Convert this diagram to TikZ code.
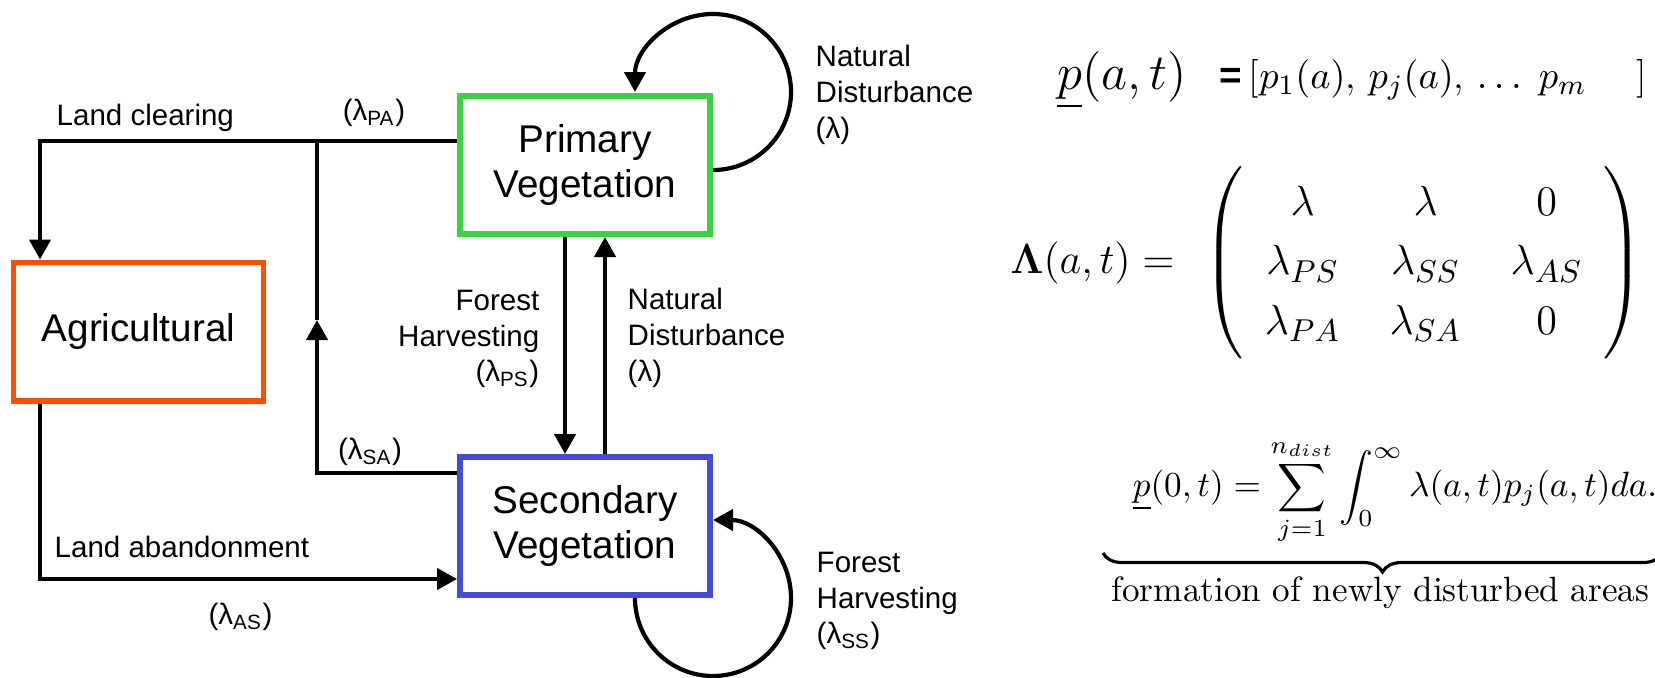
\documentclass[tikz,border=0pt]{standalone}
\usepackage{amsmath,amssymb}
\usepackage{fontspec}
\newfontfamily\arialfont{Liberation Sans}
\usepackage{tikz}
\usetikzlibrary{arrows.meta,positioning,decorations.pathreplacing}
\definecolor{luGreen} {RGB}{ 61,210, 68}
\definecolor{luOrange}{RGB}{255, 80,  0}
\definecolor{luBlue}  {RGB}{ 70, 76,212}

\begin{document}
\begin{tikzpicture}[
  every node/.style={font=\arialfont\fontsize{8.4}{10.2}\selectfont,inner sep=0pt},
  >={Triangle[length=2mm,width=2.1mm]},
  landbox/.style={draw,fill=white,line width=1.7pt,minimum width=2.5cm,
                  minimum height=1.38cm,align=center,
                  font=\arialfont\fontsize{11}{13}\selectfont},
  flow/.style={line width=1.2pt},
  eqn/.style={font=\fontsize{13}{17}\selectfont}
]
\useasboundingbox (0,0) rectangle (16.55,6.77);

\node[landbox,draw=luOrange] (A) at (1.385,3.455) {Agricultural};
\node[landbox,draw=luGreen]  (P) at (5.85,5.12)   {Primary\\Vegetation};
\node[landbox,draw=luBlue]   (S) at (5.85,1.51)   {Secondary\\Vegetation};

\coordinate (lcTurn) at (0.40,5.36);
\coordinate (saTop)  at (3.17,5.36);
\coordinate (saMid)  at (3.17,3.57);
\coordinate (saLow)  at (3.17,2.04);
\coordinate (laTurn) at (0.40,0.98);

\node[anchor=west] (lcLab) at (0.56,5.59) {Land clearing};
\node (paLab) at (3.74,5.64) {(λ\textsubscript{PA})};
\node (saLab) at (3.70,2.25) {(λ\textsubscript{SA})};
\node[anchor=west] (laLab) at (0.54,1.30) {Land abandonment};
\node (asLab) at (2.405,0.60) {(λ\textsubscript{AS})};
\node[anchor=east,align=right] (fhLab) at (5.40,3.38) {Forest\\Harvesting\\(λ\textsubscript{PS})};
\node[anchor=west,align=left] (ndLab) at (6.27,3.39) {Natural\\Disturbance\\(λ)};
\node[anchor=west,align=left] (ndLoop) at (8.15,5.82) {Natural\\Disturbance\\(λ)};
\node[anchor=west,align=left] (fhLoop) at (8.16,0.76) {Forest\\Harvesting\\(λ\textsubscript{SS})};

\draw[->,flow] (P.west |- lcTurn) -- (lcTurn) -- (lcTurn |- A.north);
\draw[->,flow] (S.west |- saLow) -- (saLow) -- (saMid);
\draw[flow] (saMid) -- (saTop);
\draw[->,flow] (laTurn |- A.south) -- (laTurn) -- (S.west |- laTurn);
\draw[->,flow] ([xshift=-2mm]P.south) -- ([xshift=-2mm]S.north);
\draw[->,flow] ([xshift=2mm]S.north) -- ([xshift=2mm]P.south);
\draw[->,flow] ([yshift=-0.5mm]P.east) arc[start angle=-90,end angle=180,radius=7.8mm];
\draw[->,flow] ([xshift=5mm]S.south) arc[start angle=180,end angle=450,radius=7.8mm];

% equations
\node[eqn,font=\fontsize{13.5}{16}\selectfont] (pVec) at (11.22,5.97) {$\underline{p}(a,t)$};
\node[eqn,anchor=west,font=\fontsize{11}{13}\selectfont] (pVals) at (12.19,5.97)
  {{\arialfont\bfseries =}\,[$p_1(a)$, $p_j(a)$, $\ldots\; p_m$\hspace{1.3em}]};
\node[eqn] (lamMat) at (13.27,4.14) {\arraycolsep=7pt\delimitershortfall=0pt%
  $\boldsymbol{\Lambda}(a,t) = \hspace{5pt}\left(\rule[-0.815cm]{0pt}{1.86cm}\hspace{6pt}\begin{matrix}
     \lambda & \lambda & 0\\
     \lambda_{PS} & \lambda_{SS} & \lambda_{AS}\\
     \lambda_{PA} & \lambda_{SA} & 0
   \end{matrix}\hspace{6pt}\right)$};
\node[eqn,font=\fontsize{9.6}{11.5}\selectfont] (pZero) at (13.95,1.85)
  {$\displaystyle \underline{p}(0,t) = \sum_{j=1}^{n_{dist}} \int_0^\infty \lambda(a,t)p_j(a,t)da.$};
\coordinate (brL) at (11.03,1.24);
\coordinate (brR) at (16.62,1.24);
\draw[decorate,decoration={brace,mirror,amplitude=1.9mm},line width=0.9pt] (brL) -- (brR);
\node[font=\fontsize{10}{12}\selectfont] (brLab) at (13.805,0.84) {formation of newly disturbed areas};
\end{tikzpicture}
\end{document}
